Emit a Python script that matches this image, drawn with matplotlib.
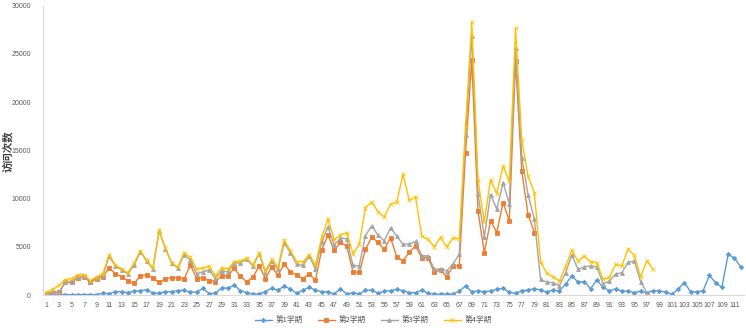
import numpy as np
import matplotlib
matplotlib.use("Agg")
import matplotlib.pyplot as plt

plt.rcParams["font.family"] = ["Liberation Sans", "Noto Sans CJK SC", "DejaVu Sans"]

# visits per category, one list per term
term1 = [50, 50, 50, 50, 30, 50, 50, 50, 50, 200, 150, 350, 350, 250, 400, 450, 550, 200, 200, 350,
         350, 450, 500, 300, 300, 700, 150, 200, 750, 700, 1030, 450, 250, 100, 100, 350, 700, 500, 930, 600,
         170, 500, 800, 500, 350, 350, 100, 650, 100, 240, 100, 500, 500, 170, 410, 450, 590, 450, 240, 240,
         520, 170, 100, 100, 100, 100, 410, 930, 350, 400, 350, 410, 590, 690, 280, 170, 450, 520, 650, 520,
         310, 520, 410, 1140, 1970, 1340, 1380, 650, 1550, 790, 450, 620, 410, 410, 240, 410, 240, 450, 410, 310,
         70, 620, 1280, 340, 310, 450, 2030, 1280, 790, 4210, 3830, 2930]
term2 = [100, 200, 300, 1300, 1300, 1800, 1900, 1300, 1700, 1900, 2800, 2200, 1900, 1500, 1200, 2000, 2100, 1800, 1300, 1700,
         1800, 1800, 1700, 3100, 1700, 1800, 1500, 1400, 2000, 2000, 2750, 1950, 1380, 1830, 3030, 1700, 2900, 2070, 3170, 2400,
         2070, 1700, 2170, 1550, 4700, 6200, 4650, 5450, 5100, 2400, 2340, 4720, 6030, 5450, 4720, 5930, 3970, 3550, 4410, 5100,
         3860, 3860, 2340, 2590, 1900, 3000, 3030, 14760, 24380, 8690, 4380, 7690, 6480, 9590, 7690, 24310, 12830, 8340, 6480]
term3 = [200, 300, 300, 1300, 1400, 1900, 1900, 1400, 1800, 2000, 4000, 3000, 2600, 2200, 3100, 4500, 3500, 2700, 6600, 4800,
         3300, 2800, 4200, 3600, 2200, 2400, 2600, 1700, 2500, 2400, 3300, 3350, 3700, 3000, 4300, 2300, 3500, 2650, 5400, 4400,
         3200, 3070, 4030, 2700, 5500, 7070, 5170, 5900, 5830, 3070, 3030, 6170, 7170, 6200, 5620, 6960, 6100, 5240, 5300, 5550,
         4070, 4070, 2690, 2650, 2520, 3200, 4240, 16550, 26900, 10500, 6030, 10410, 8900, 11650, 9480, 25590, 14240, 10410, 7860, 1620,
         1340, 1280, 970, 2310, 4140, 2650, 2930, 3000, 2930, 1140, 1450, 2170, 2310, 3380, 3520, 1380, 240]
term4 = [300, 600, 1000, 1600, 1700, 2100, 2100, 1500, 1900, 2200, 4200, 3100, 2700, 2300, 3300, 4600, 3600, 2800, 6700, 4900,
         3300, 2900, 4400, 3900, 2700, 2800, 3000, 2000, 2800, 2700, 3450, 3550, 3800, 3100, 4380, 2500, 3700, 2900, 5700, 4600,
         3450, 3450, 4200, 3100, 6000, 7900, 5750, 6200, 6480, 4300, 5240, 9070, 9650, 8620, 8100, 9410, 9650, 12500, 9830, 10170,
         6100, 5760, 5000, 5970, 5000, 5900, 5830, 17500, 28270, 11900, 7590, 11960, 10520, 13380, 11790, 27650, 16030, 12340, 10620, 3450,
         2240, 1900, 1450, 2930, 4650, 3520, 4030, 3450, 3340, 1620, 1830, 3170, 3030, 4760, 4100, 1900, 3550, 2650]

series = [
    ("第1学期", term1, "#5B9BD5", "D", 2.2),
    ("第2学期", term2, "#ED7D31", "s", 2.8),
    ("第3学期", term3, "#A5A5A5", "^", 2.8),
    ("第4学期", term4, "#FFC000", "x", 3.0),
]
n_cat = len(term1)
y_ticks = np.arange(0, 30001, 5000)

fig = plt.figure(figsize=(7.46, 3.28), dpi=100)
ax = fig.add_axes([0.0583, 0.1006, 0.9387, 0.882])

for name, vals, col, mk, ms in series:
    x = np.arange(1, len(vals) + 1)
    ax.plot(x, vals, color=col, lw=1.0, marker=mk, ms=ms, mew=0.6, label=name)

ax.set_xlim(0.5, n_cat + 0.5)
ax.set_ylim(0, 30000)
ax.set_yticks(y_ticks)
ax.set_yticklabels([str(v) for v in y_ticks])
xt = np.arange(1, n_cat + 1, 2)
ax.set_xticks(xt)
ax.set_xticklabels([str(v) for v in xt])
ax.tick_params(axis="both", length=0, labelsize=5, colors="#595959")
ax.tick_params(axis="y", pad=9)
ax.tick_params(axis="x", pad=5)

for side in ("top", "right"):
    ax.spines[side].set_visible(False)
for side in ("left", "bottom"):
    ax.spines[side].set_color("#D9D9D9")
    ax.spines[side].set_linewidth(0.8)

fig.text(0.0105, 0.54, "访问次数", rotation=90, ha="center", va="center",
         fontsize=7.5, fontweight="bold", family=["Noto Sans CJK SC", "DejaVu Sans"], color="#404040")

leg = fig.legend(loc="center", bbox_to_anchor=(0.5, 0.022), ncol=4, frameon=False,
                 prop={"family": ["Noto Sans CJK SC", "DejaVu Sans"], "size": 5.5},
                 handlelength=2.3, columnspacing=2.0, handletextpad=0.4, labelcolor="#595959")

fig.savefig("out.png", dpi=100)
